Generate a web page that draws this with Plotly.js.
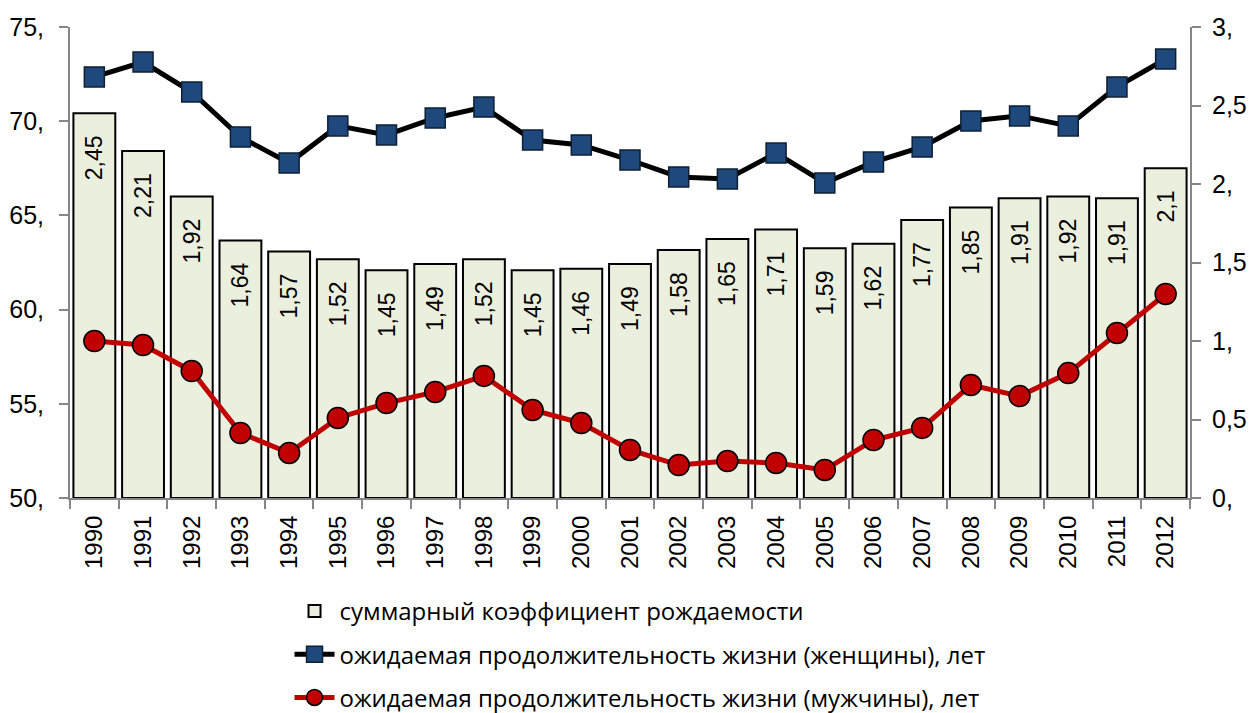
<!DOCTYPE html>
<html><head><meta charset="utf-8">
<script src="https://cdn.plot.ly/plotly-3.0.1.min.js"></script>
<style>html,body{margin:0;padding:0;background:#fff}#chart{width:1252px;height:713px}</style>
</head><body><div id="chart"></div>
<script>
const years = ['1990','1991','1992','1993','1994','1995','1996','1997','1998','1999','2000','2001','2002','2003','2004','2005','2006','2007','2008','2009','2010','2011','2012'];
const fertility = [2.45,2.21,1.92,1.64,1.57,1.52,1.45,1.49,1.52,1.45,1.46,1.49,1.58,1.65,1.71,1.59,1.62,1.77,1.85,1.91,1.92,1.91,2.1];
const femaleLife = [72.35,73.14,71.55,69.16,67.78,69.75,69.27,70.17,70.75,69.0,68.74,67.94,67.04,66.93,68.31,66.72,67.83,68.63,70.01,70.28,69.75,71.82,73.3];
const maleLife = [58.33,58.12,56.74,53.45,52.39,54.25,55.04,55.63,56.48,54.67,53.98,52.55,51.75,51.96,51.86,51.49,53.08,53.72,56.0,55.41,56.63,58.76,60.83];
const leftTicks = [50,55,60,65,70,75];
const leftTickText = ['50,','55,','60,','65,','70,','75,'];
const rightTicks = [0,0.5,1,1.5,2,2.5,3];
const rightTickText = ['0,','0,5','1,','1,5','2,','2,5','3,'];
const names = ['суммарный коэффициент рождаемости','ожидаемая продолжительность жизни (женщины), лет','ожидаемая продолжительность жизни (мужчины), лет'];

const sans = 'Liberation Sans, Arial, sans-serif';
const tickFont = {family:sans, size:25, color:'#000'};
const fmt = v => String(v).replace('.', ',') + '\u00A0\u00A0\u00A0';

const traces = [
 {type:'bar', x:years, y:fertility, name:names[0], yaxis:'y', legendgroup:'a',
  marker:{color:'#EBEFDE', line:{color:'#000', width:2}},
  text:fertility.map(fmt), textposition:'inside', insidetextanchor:'end', textangle:-90,
  textfont:{family:sans, size:23, color:'#000'},
  constraintext:'none', hoverinfo:'skip'},
 {type:'scatter', mode:'lines+markers', x:years, y:femaleLife, name:names[1], yaxis:'y2', legendgroup:'b',
  line:{color:'#000', width:5}, marker:{symbol:'square', size:20, color:'#1F497D', line:{color:'#0d1f33', width:1.5}}},
 {type:'scatter', mode:'lines+markers', x:years, y:maleLife, name:names[2], yaxis:'y2', legendgroup:'c',
  line:{color:'#C00000', width:5}, marker:{symbol:'circle', size:21, color:'#C00000', line:{color:'#000', width:1.5}}}
];

const layout = {
 width:1252, height:713,
 margin:{l:70, r:62, t:27, b:215},
 paper_bgcolor:'#fff', plot_bgcolor:'#fff',
 showlegend:true,
 bargap:0.14,
 xaxis:{type:'category', range:[-0.5, years.length-0.5], showline:true, linecolor:'#868686', linewidth:2, ticks:'outside', ticklen:9, tickcolor:'#868686', tickwidth:2,
   tickson:'boundaries', tickangle:-90, tickfont:{family:sans, size:24, color:'#000'}, showgrid:false, zeroline:false, ticklabelstandoff:6},
 yaxis:{side:'right', range:[0,3], tickvals:rightTicks, ticktext:rightTickText, showline:true, linecolor:'#868686', linewidth:2,
   ticks:'outside', ticklen:9, tickcolor:'#868686', tickwidth:2, tickfont:tickFont, showgrid:false, zeroline:false, ticklabelstandoff:6},
 yaxis2:{overlaying:'y', side:'left', range:[50,75], tickvals:leftTicks, ticktext:leftTickText, showline:true, linecolor:'#868686', linewidth:2,
   ticks:'outside', ticklen:9, tickcolor:'#868686', tickwidth:2, tickfont:tickFont, showgrid:false, zeroline:false, ticklabelstandoff:10},
 legend:{orientation:'v', x:0.196, xanchor:'left', yref:'container', y:0.174, yanchor:'top', traceorder:'grouped', tracegroupgap:9,
   font:{family:'Open Sans, Noto Sans, sans-serif', size:24, color:'#000'}, itemwidth:40, bgcolor:'rgba(0,0,0,0)'}
};
Plotly.newPlot('chart', traces, layout, {displayModeBar:false, staticPlot:true});
</script></body></html>
